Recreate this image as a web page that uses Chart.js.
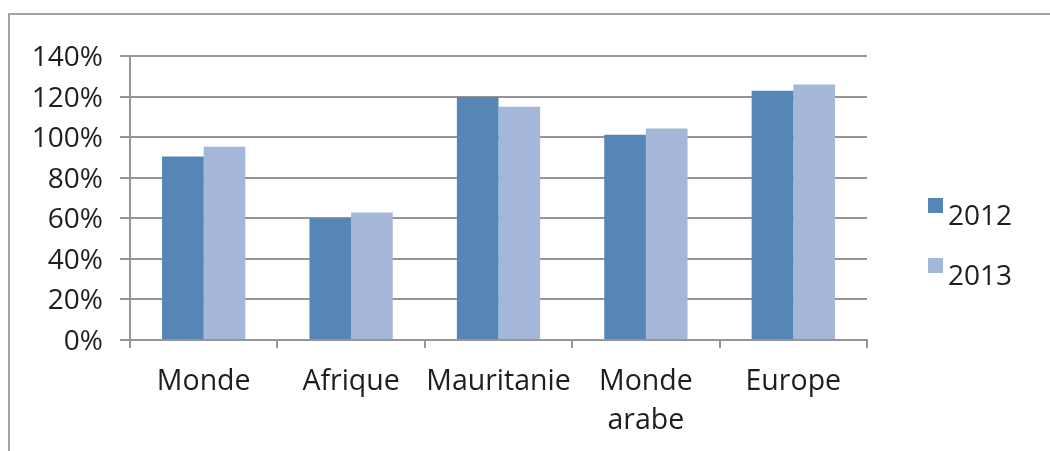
<!DOCTYPE html>
<html>
<head>
<meta charset="utf-8">
<script src="https://cdn.jsdelivr.net/npm/chart.js@4.4.1/dist/chart.umd.min.js"></script>
<style>
  html, body { margin: 0; padding: 0; background: #ffffff; }
  #wrap { position: relative; width: 1050px; height: 451px; overflow: hidden; }
  #frame {
    position: absolute; left: 8px; top: 13px; width: 1100px; height: 500px;
    border-top: 2px solid #a3a3a3; border-left: 2px solid #a3a3a3;
    box-sizing: border-box;
  }
  canvas { position: absolute; left: 0; top: 0; }
</style>
</head>
<body>
<div id="wrap">
  <div id="frame"></div>
  <canvas id="chart" width="1050" height="451"></canvas>
</div>
<script>
// Regions compared, one bar per year
const categories = ['Monde', 'Afrique', 'Mauritanie', ['Monde', 'arabe'], 'Europe'];
const seriesNames = ['2012', '2013'];
const values2012 = [90.4, 60.0, 119.8, 101.2, 122.9];
const values2013 = [95.3, 62.9, 115.0, 104.2, 125.9];
const yTicks = [0, 20, 40, 60, 80, 100, 120, 140];

const FONT = "'Open Sans', 'Noto Sans', sans-serif";
const TEXT = '#1e1e1e';
const GRID = '#959595';

// Legend drawn beside the plot: small square set a little above the label
const sideLegend = {
  id: 'sideLegend',
  afterDraw(chart) {
    const ctx = chart.ctx;
    ctx.save();
    ctx.font = '28px ' + FONT;
    ctx.textBaseline = 'alphabetic';
    ctx.textAlign = 'left';
    chart.data.datasets.forEach((ds, i) => {
      const baseY = 225 + i * 60;
      ctx.fillStyle = ds.backgroundColor;
      ctx.fillRect(928, baseY - 27, 15, 15);
      ctx.fillStyle = TEXT;
      ctx.fillText(ds.label, 948, baseY);
    });
    ctx.restore();
  }
};

new Chart(document.getElementById('chart'), {
  type: 'bar',
  data: {
    labels: categories,
    datasets: [
      { label: seriesNames[0], data: values2012, backgroundColor: '#5586b5' },
      { label: seriesNames[1], data: values2013, backgroundColor: '#a4b7d8' }
    ]
  },
  options: {
    responsive: false,
    animation: false,
    devicePixelRatio: 1,
    layout: { padding: { left: 0, top: 56, right: 183, bottom: 0 } },
    datasets: { bar: { categoryPercentage: 0.565, barPercentage: 1.0 } },
    plugins: { legend: { display: false }, tooltip: { enabled: false } },
    scales: {
      x: {
        afterFit(scale) { scale.height = 111; },
        grid: { display: true, drawOnChartArea: false, drawTicks: true, tickLength: 8, color: GRID, lineWidth: 2, offset: true },
        border: { display: true, color: GRID, width: 2 },
        ticks: {
          color: TEXT, padding: 14, maxRotation: 0, minRotation: 0, autoSkip: false,
          font: { family: FONT, size: 28.5, lineHeight: 1.38 }
        }
      },
      y: {
        min: 0, max: 140,
        afterFit(scale) { scale.width = 130; },
        afterBuildTicks(scale) { scale.ticks = yTicks.map(v => ({ value: v })); },
        grid: { color: GRID, lineWidth: 2, tickLength: 10, drawTicks: true },
        border: { display: true, color: GRID, width: 2 },
        ticks: {
          color: TEXT, padding: 17, labelOffset: 2,
          font: { family: FONT, size: 28 },
          callback: v => v + '%'
        }
      }
    }
  },
  plugins: [sideLegend]
});
</script>
</body>
</html>
